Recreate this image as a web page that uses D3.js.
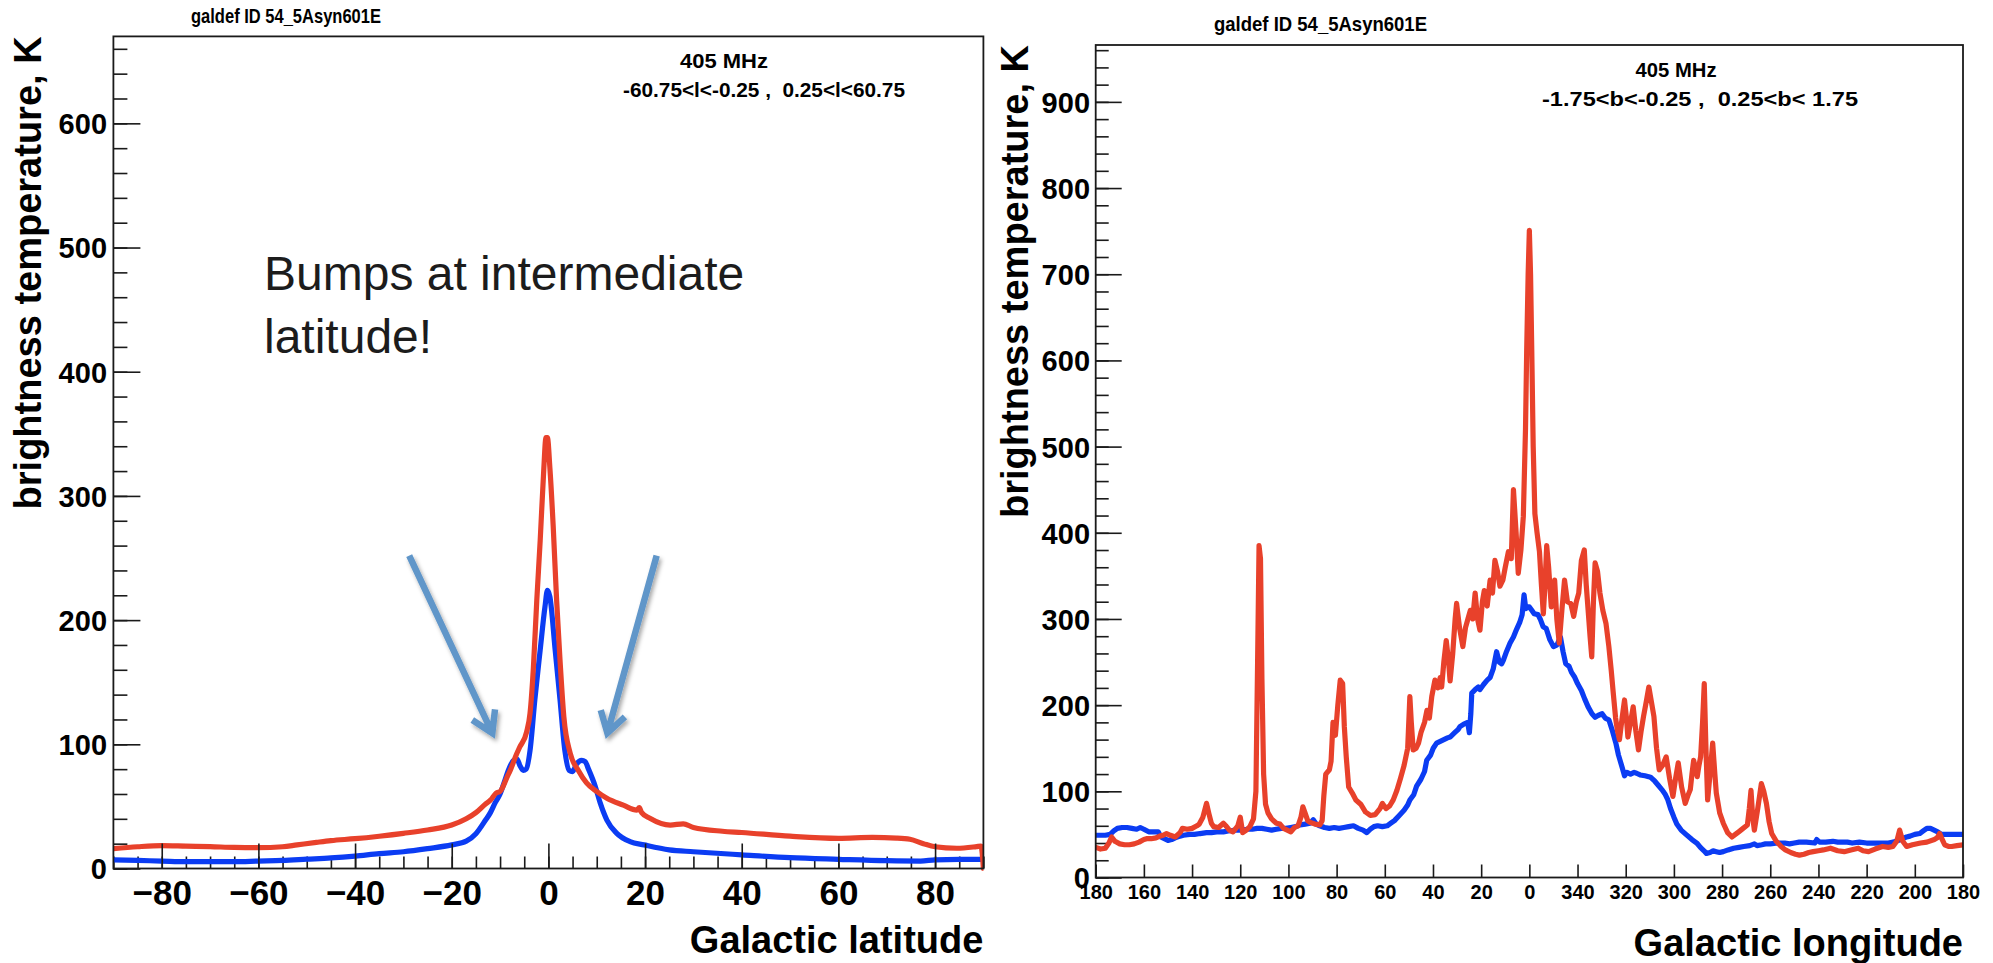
<!DOCTYPE html>
<html><head><meta charset="utf-8">
<script src="https://cdn.jsdelivr.net/npm/d3@7"></script>
<style>
body{margin:0;background:#fff;}
svg text{font-family:"Liberation Sans",Arial,Helvetica,sans-serif;}
</style>
</head><body>
<svg id="c" width="1993" height="963"></svg>
<script>
// ---------------- DATA ----------------
// Left panel: brightness temperature (K) vs Galactic latitude (deg)
const latTicks = [-80,-60,-40,-20,0,20,40,60,80];
const leftYTicks = [0,100,200,300,400,500,600];
const leftBlue = [[-90,7],[-85,6.5],[-80,6],[-75,5.5],[-70,5.5],[-65,5.5],[-60,6],[-55,6.5],[-50,7.5],[-45,8.5],[-40,10],[-35,12],[-30,13.5],[-25,16],[-20,19],[-17,22],[-15,28],[-13,39],[-12,45],[-11,53],[-10,60],[-9,71],[-8.3,79],[-7.2,87],[-6.5,88],[-5.9,83],[-5.2,79],[-4.6,80],[-3.8,95],[-2.8,136],[-1.7,176],[-0.7,211],[-0.2,224],[0.3,219],[1.4,176],[2.4,136],[3.4,95],[4.3,79],[5,78],[5.8,84],[6.9,87],[7.6,86],[8.3,80],[9.7,66],[10.7,53],[12.1,39],[14.1,28.5],[16.9,21.6],[19.8,19],[25,15],[30,13.5],[40,11],[50,8.7],[60,7.4],[70,6.3],[77,6],[80,7],[85,7.4],[89.5,7.4],[90,7]];
const leftRed = [[-90,16],[-85,17.5],[-80,18.4],[-75,18],[-70,17.6],[-65,17],[-60,16.8],[-55,17.5],[-52,19],[-48,21],[-45,22.4],[-40,24],[-35,26],[-30,28.3],[-25,31],[-20,35],[-17,40],[-15,45],[-13,52],[-12,55],[-10.8,60.8],[-10,62],[-8.5,74],[-7.9,79],[-6.6,92],[-5.9,98],[-4.5,110],[-3.8,125],[-3.1,162],[-2.4,216],[-1.7,264],[-1,318],[-0.5,347],[-0.2,347],[0.3,323],[1,275],[1.7,216],[2.4,168],[3.2,122],[4.5,93],[6.2,79],[7.9,69],[10,62],[12.1,56.5],[15.5,51],[18.3,47],[18.8,49],[19.3,45],[21,40.5],[25.2,35],[27.9,36],[30,33],[36,30],[40,29],[50,26],[60,24.3],[67,25],[72,24.5],[74.8,23.5],[77.6,20],[80,17.5],[84.5,16.3],[88.6,17.6],[89.5,18],[90,0]];

// Right panel: brightness temperature (K) vs Galactic longitude (deg, 180 -> 0 -> -180 == 360 -> 180)
const lonTicks = [180,160,140,120,100,80,60,40,20,0,-20,-40,-60,-80,-100,-120,-140,-160,-180];
const rightYTicks = [0,100,200,300,400,500,600,700,800,900];
const rightRed = [[180,35],[178,33],[176,34],[174.5,40],[173.4,47],[172,42],[170,39],[168,38],[166,38],[164,39],[162,41],[160,44],[158.9,45],[157,45],[155,46],[153.4,48],[152,49],[150.6,51],[149,49],[147,47],[145,52],[144,57],[142,56],[140,57],[138,60],[137,62],[135.5,70],[134,86],[133,74],[132,63],[131,59],[129,58],[127,63],[126,60],[124.5,55],[123,53],[121,60],[120,70],[119,52],[117.5,55],[116,59],[114.5,68],[113.5,100],[112.8,250],[112.2,385],[111.6,370],[111,230],[110.3,120],[109.5,85],[108.5,75],[107,68],[105,63],[103.5,62],[102,57],[100.5,55],[99,53],[97.5,58],[96,60],[94.8,70],[94,82],[93,74],[92,66],[91,64],[89,62],[87,61],[86,66],[85.3,95],[84.5,120],[83,125],[82.3,135],[81.5,180],[80.5,165],[79.5,200],[78.5,229],[77.5,225],[76.8,175],[76,140],[75,105],[73.5,98],[72,90],[70,85],[68,76],[66,72],[64,73],[62,80],[61,86],[59.5,80],[58,83],[56.5,90],[55,101],[53.5,115],[52,130],[50.5,150],[49.6,210],[49,180],[48.2,148],[47,150],[46,156],[45,168],[43.5,180],[42.5,194],[41.5,185],[40.5,210],[39.2,229],[38,220],[37,232],[36.4,221],[35.5,250],[34.5,275],[33.5,250],[32.9,228],[31.8,260],[30.8,300],[30.2,318],[29,290],[27.6,268],[26.5,290],[25.5,300],[24.5,310],[23.5,300],[22.5,330],[21.5,300],[20.5,287],[19.5,320],[18.7,333],[17.5,315],[16.3,345],[15.3,330],[14.3,368],[13.2,355],[12.2,338],[11,345],[10,360],[8.7,378],[7.5,370],[6.6,450],[5.5,400],[4.6,353],[3.5,380],[2.5,419],[1.6,520],[1.1,612],[0.5,700],[0,751],[-0.5,700],[-1,612],[-1.6,500],[-2.3,422],[-3.2,400],[-4.2,378],[-5,340],[-5.8,306],[-6.5,340],[-7.2,385],[-8,360],[-9.1,314],[-9.8,330],[-10.5,345],[-11.4,300],[-12.4,272],[-13.5,310],[-14.6,345],[-15.8,320],[-17.2,318],[-18.4,303],[-19.5,320],[-20.5,330],[-21.6,368],[-22.8,380],[-23.6,340],[-24.4,310],[-25.2,280],[-25.9,256],[-26.6,320],[-27.3,365],[-28.3,355],[-29.3,330],[-30.5,310],[-31.8,295],[-33,268],[-34,240],[-34.8,215],[-35.8,185],[-36.6,170],[-37.4,160],[-38.5,185],[-39.5,206],[-40.3,185],[-40.9,163],[-42,180],[-43.1,198],[-44.2,170],[-45.3,148],[-46.4,170],[-47.4,187],[-48.6,205],[-49.6,221],[-50.6,205],[-51.7,187],[-52.8,150],[-53.9,125],[-55.3,130],[-56.8,140],[-58.2,115],[-59.6,94],[-60.7,115],[-61.8,133],[-63.2,105],[-64.7,86],[-65.8,95],[-66.8,102],[-67.5,120],[-68.2,136],[-69,125],[-69.7,117],[-70.4,130],[-71.1,140],[-71.9,180],[-72.6,225],[-73.3,150],[-74,90],[-75,120],[-76.1,156],[-77,120],[-77.6,98],[-79,75],[-80.5,63],[-82.3,52],[-84.1,47],[-85.5,50],[-86.9,53],[-88.7,57],[-90.5,61],[-91.3,80],[-92,101],[-92.7,70],[-93.4,55],[-94.8,80],[-96.3,109],[-97.3,100],[-98.4,86],[-99.5,65],[-100.6,51],[-102.5,42],[-104.5,36],[-106.3,32],[-108.5,29],[-110.5,27],[-112.1,26],[-114,27],[-116,29],[-117.8,30],[-120,31],[-122,32],[-125,34],[-128,31],[-130.7,30],[-133.5,32],[-136.5,34],[-138.5,31],[-140.8,30],[-143.5,33],[-146.6,36],[-149,35],[-150.9,36],[-152.5,42],[-153.7,55],[-155,42],[-156.6,36],[-159,38],[-162.4,40],[-165,41],[-168.1,44],[-169.3,46],[-170.3,51],[-171.4,44],[-172.4,38],[-174,36],[-175.3,36],[-177.5,37],[-180,38]];
const rightBlue = [[180,49],[178,49],[176,49],[174,50],[172.5,54],[171,57],[169,58],[167,58],[165,57],[163,56],[161.5,58],[160,56],[158,53],[156,53],[154,53],[153,47],[151.5,45],[150,43],[148.5,44],[147,46],[145,48],[143.6,49],[141,50],[139,50],[136.7,51],[134,52],[132,52],[129.8,53],[127,53],[125,54],[122,55],[119.4,55],[117,56],[115,56],[113,57],[111,57],[109,56],[107,55],[105,56],[103,57],[101,57],[99,58],[97,59],[95.2,61],[93,62],[91,63],[89.7,67],[88.5,62],[87,60],[85,58],[83,57],[81,58],[79,57],[77,58],[75,59],[73,60],[71,57],[69,55],[67.5,52],[66,56],[64.5,59],[63,60],[61,59],[59,60],[57.5,63],[56,66],[54,72],[52,78],[50.5,84],[49.6,90],[48,96],[46.8,106],[45,114],[43.5,123],[42.6,136],[41,142],[39.9,150],[38.5,156],[37,158],[35.5,160],[34,162],[32.9,163],[31,168],[29.5,172],[28.8,175],[27.2,178],[25.6,180],[24.9,168],[24.3,190],[23.9,214],[22.5,218],[21.2,221],[20.5,218],[19,224],[17.5,229],[16.3,232],[15,242],[13.6,262],[12.5,250],[11.5,248],[10.8,252],[9.5,262],[8,272],[6.6,279],[5.3,288],[4,296],[3,305],[2.2,328],[1.5,312],[0.5,314],[0,314],[-1,310],[-2,306],[-3.6,305],[-4.5,300],[-5.7,291],[-7,289],[-8.5,276],[-10,268],[-11.5,270],[-12.9,279],[-14,262],[-15.1,248],[-16.5,245],[-17.5,238],[-18.7,233],[-20,225],[-21.6,217],[-23,207],[-24.4,198],[-26,190],[-27.3,186],[-28.5,188],[-30.2,190],[-31.5,185],[-33,183],[-34.5,170],[-35.9,156],[-37,142],[-38.5,128],[-39.5,118],[-40.5,122],[-42,120],[-43.5,122],[-44.5,121],[-46,119],[-48,118],[-49.5,117],[-50.5,116],[-52,112],[-53.5,107],[-55,102],[-56.3,97],[-57.5,90],[-58.6,80],[-60,70],[-61.2,62],[-63,55],[-65,50],[-67.5,44],[-69.5,40],[-71,35],[-72.5,31],[-73.5,28],[-75,29],[-76.3,31],[-77.6,30],[-79,29],[-80.5,30],[-82.5,32],[-84.8,34],[-87,35],[-89,36],[-91.5,37],[-93.4,39],[-94.5,37],[-96.5,38],[-98,39],[-100,39],[-103,40],[-106,40],[-108,39],[-110,40],[-112,41],[-115,41],[-118.5,40],[-119.3,44],[-120.5,41],[-123,41],[-126,42],[-128,41],[-130,41],[-132,41],[-134,40],[-137,41],[-140,40],[-143,40],[-146.6,40],[-149,40],[-151,41],[-153,43],[-155,45],[-156.6,47],[-158,48],[-160,50],[-162,51],[-163.5,54],[-165,57],[-166.5,57],[-168,55],[-169.5,53],[-171,50],[-173,50],[-175,50],[-177.5,50],[-180,50]];

// Annotation arrows (data coordinates of the left panel: [lat, K])
const arrowLeft = [[-28.8,252],[-11.6,109]];
const arrowRight = [[22.4,252],[12.2,109]];

// ---------------- DRAWING ----------------
const RED = '#e8412b', BLUE = '#0b3cf3', ARROW = '#6096c9', INK = '#1a1a1a';
const svg = d3.select('#c');
const defs = svg.append('defs');
const f = defs.append('filter').attr('id','sh').attr('x','-30%').attr('y','-30%').attr('width','160%').attr('height','160%');
f.append('feDropShadow').attr('dx',2).attr('dy',3).attr('stdDeviation',2.2).attr('flood-color','#000').attr('flood-opacity',0.35);

function panel(cfg){
  const g = svg.append('g');
  const x = d3.scaleLinear().domain(cfg.xDomain).range(cfg.xRange);
  const y = d3.scaleLinear().domain(cfg.yDomain).range(cfg.yRange);
  const [x0,x1] = cfg.xRange, [y0,y1] = cfg.yRange;
  const cid = 'clip'+cfg.id;
  defs.append('clipPath').attr('id',cid).append('rect')
     .attr('x',x0).attr('y',y1).attr('width',x1-x0).attr('height',y0-y1+3);

  const styleAxis = sel => { sel.select('.domain').remove();
    sel.selectAll('.tick line').attr('stroke',INK).attr('stroke-width',1.6); };

  // minor ticks
  if (cfg.yMinor) g.append('g').attr('transform',`translate(${x0},0)`)
     .call(d3.axisLeft(y).tickValues(cfg.yMinor).tickSize(-cfg.yMinorLen).tickFormat(''))
     .call(styleAxis);
  if (cfg.xMinor) g.append('g').attr('transform',`translate(0,${y0})`)
     .call(d3.axisBottom(x).tickValues(cfg.xMinor).tickSize(-cfg.xMinorLen).tickFormat(''))
     .call(styleAxis);

  // data lines
  const lg = g.append('g').attr('clip-path',`url(#${cid})`);
  const line = d3.line().x(d=>x(d[0])).y(d=>y(d[1])).curve(cfg.curve);
  cfg.series.forEach(s => lg.append('path').datum(s.data).attr('d',line)
     .attr('fill','none').attr('stroke',s.color).attr('stroke-width',cfg.lw)
     .attr('stroke-linejoin','round').attr('stroke-linecap','round'));

  // major ticks + labels
  const ya = g.append('g').attr('transform',`translate(${x0},0)`)
     .call(d3.axisLeft(y).tickValues(cfg.yTicks).tickSize(-cfg.yMajorLen).tickPadding(cfg.yPad).tickFormat(d3.format('d')))
     .call(styleAxis);
  ya.selectAll('.tick text').attr('font-size',cfg.yFont).attr('font-weight','bold').attr('fill','#000')
     .attr('font-family','"Liberation Sans",Arial,sans-serif').attr('dy','0.36em');
  const xa = g.append('g').attr('transform',`translate(0,${y0})`)
     .call(d3.axisBottom(x).tickValues(cfg.xTicks).tickSize(-cfg.xMajorLen).tickFormat(cfg.xFormat))
     .call(styleAxis);
  xa.selectAll('.tick text').attr('font-size',cfg.xFont).attr('font-weight','bold').attr('fill','#000')
     .attr('font-family','"Liberation Sans",Arial,sans-serif').attr('dy',0).attr('y',cfg.xLabelBase);
  ya.raise();

  // frame
  g.append('rect').attr('x',x0).attr('y',y1).attr('width',x1-x0).attr('height',y0-y1)
     .attr('fill','none').attr('stroke',INK).attr('stroke-width',1.8);

  // titles
  const t = (txt,px,py,size,anchor,weight,extra) => {
    const e = g.append('text').attr('x',px).attr('y',py).attr('font-size',size)
      .attr('text-anchor',anchor).attr('font-weight',weight).attr('fill','#000')
      .style('white-space','pre').text(txt);
    if (extra) extra(e);
    return e;
  };
  t('galdef ID 54_5Asyn601E', cfg.title[0], cfg.title[1], 21, 'start','bold',
     e=>e.attr('textLength',cfg.title[2]).attr('lengthAdjust','spacingAndGlyphs'));
  t('405 MHz', cfg.freq[0], cfg.freq[1], 21, 'middle','bold',
     e=>e.attr('textLength',cfg.freq[2]).attr('lengthAdjust','spacingAndGlyphs'));
  t(cfg.rangeText, cfg.range[0], cfg.range[1], 21, 'start','bold',
     e=>e.attr('textLength',cfg.range[2]).attr('lengthAdjust','spacingAndGlyphs'));
  t(cfg.xTitle, x1, cfg.xTitleY, 38, 'end','bold');
  g.append('text').attr('transform',`translate(${cfg.yTitleX},${y1}) rotate(-90)`)
     .attr('text-anchor','end').attr('font-size',38).attr('font-weight','bold').attr('fill','#000')
     .text('brightness temperature, K');
  return {x,y,g};
}

const L = panel({
  id:'L', xDomain:[-90,90], xRange:[113.4,983.4], yDomain:[0,670], yRange:[868.5,36.4],
  xTicks:latTicks, xMinor:d3.range(-90,91,5), yTicks:leftYTicks, yMinor:d3.range(0,670,20),
  yMajorLen:27, yMinorLen:14, xMajorLen:25, xMinorLen:12, yPad:6.4, yFont:29, xFont:35, xLabelBase:36.5,
  xFormat:d3.format('d'), curve:d3.curveMonotoneX, lw:5.2,
  series:[{data:leftBlue,color:BLUE},{data:leftRed,color:RED}],
  title:[191,23,190], freq:[724,68,88], range:[623,97,282], rangeText:'-60.75<l<-0.25 ,  0.25<l<60.75',
  xTitle:'Galactic latitude', xTitleY:953, yTitleX:41
});

const R = panel({
  id:'R', xDomain:[180,-180], xRange:[1095.7,1963], yDomain:[0,966], yRange:[877.5,45],
  xTicks:lonTicks, xMinor:null, yTicks:rightYTicks, yMinor:d3.range(0,966,20),
  yMajorLen:26, yMinorLen:13, xMajorLen:13, xMinorLen:0, yPad:5.7, yFont:29, xFont:20, xLabelBase:21,
  xFormat:d=>String(((d%360)+360)%360), curve:d3.curveLinear, lw:5.2,
  series:[{data:rightBlue,color:BLUE},{data:rightRed,color:RED}],
  title:[1214,31,213], freq:[1676,77,81], range:[1542,106,316], rangeText:'-1.75<b<-0.25 ,  0.25<b< 1.75',
  xTitle:'Galactic longitude', xTitleY:956, yTitleX:1028
});

// annotation text
const note = svg.append('text').attr('font-size',48).attr('fill','#1c1c1c').attr('x',264);
note.append('tspan').attr('x',264).attr('y',290).text('Bumps at intermediate');
note.append('tspan').attr('x',264).attr('y',353).text('latitude!');

// arrows (positioned with the left panel scales)
function arrow(pts){
  const p0 = [L.x(pts[0][0]), L.y(pts[0][1])], p1 = [L.x(pts[1][0]), L.y(pts[1][1])];
  const ang = Math.atan2(p1[1]-p0[1], p1[0]-p0[0]);
  const len = 24, spread = 0.55;
  const a1 = [p1[0]-len*Math.cos(ang-spread), p1[1]-len*Math.sin(ang-spread)];
  const a2 = [p1[0]-len*Math.cos(ang+spread), p1[1]-len*Math.sin(ang+spread)];
  const ag = svg.append('g').attr('filter','url(#sh)');
  ag.append('path').attr('d',`M${p0}L${p1}M${a1}L${p1}L${a2}`)
    .attr('fill','none').attr('stroke',ARROW).attr('stroke-width',6.5)
    .attr('stroke-linecap','butt').attr('stroke-linejoin','miter');
}
arrow(arrowLeft); arrow(arrowRight);
</script>
</body></html>
